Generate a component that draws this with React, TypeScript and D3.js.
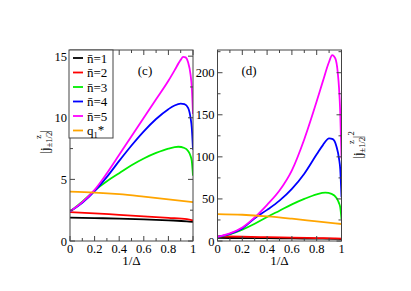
import React from "react";
import * as d3 from "d3";

// ---- panel (c): |j| ----
const cxN5 = [0, 0.1, 0.2, 0.3, 0.4, 0.5, 0.6, 0.7, 0.8, 0.85, 0.9, 0.92, 0.94, 0.96, 0.98, 0.99, 1];
const cN5 = [2.4, 3.15, 4.15, 5.5, 7.0, 8.5, 10.0, 11.5, 13.0, 13.85, 14.7, 14.95, 14.9, 14.5, 13.5, 12.5, 10.3];
const cxN4 = [0, 0.1, 0.2, 0.3, 0.4, 0.5, 0.6, 0.7, 0.8, 0.85, 0.9, 0.93, 0.96, 0.98, 0.99, 1];
const cN4 = [2.4, 3.1, 4.05, 5.2, 6.5, 7.75, 8.9, 9.9, 10.7, 11.0, 11.15, 11.1, 10.8, 10.0, 9.2, 7.4];
const cxN3 = [0, 0.1, 0.2, 0.3, 0.4, 0.5, 0.6, 0.7, 0.8, 0.88, 0.93, 0.96, 0.98, 0.99, 1];
const cN3 = [2.4, 3.2, 4.1, 4.85, 5.5, 6.15, 6.7, 7.15, 7.5, 7.65, 7.55, 7.3, 6.9, 6.5, 5.3];
const cxLow = [0, 0.2, 0.4, 0.6, 0.8, 0.95, 1];
const cN2 = [2.35, 2.25, 2.12, 2.0, 1.88, 1.78, 1.67];
const cN1 = [1.9, 1.86, 1.82, 1.76, 1.68, 1.6, 1.55];
const cxQ = [0, 0.2, 0.4, 0.6, 0.8, 1];
const cQ = [4.0, 3.93, 3.8, 3.6, 3.38, 3.15];

// ---- panel (d): |j|^2 ----
const dxN5 = [0, 0.1, 0.2, 0.3, 0.4, 0.5, 0.6, 0.7, 0.8, 0.85, 0.9, 0.925, 0.95, 0.97, 0.98, 0.99, 1];
const dN5 = [5, 9, 16, 28, 43, 60, 84, 121, 166, 190, 213, 221, 217, 200, 182, 152, 98];
const dxN4 = [0, 0.1, 0.2, 0.3, 0.4, 0.5, 0.6, 0.7, 0.8, 0.85, 0.9, 0.93, 0.96, 0.98, 0.99, 1];
const dN4 = [5, 8.5, 15, 27, 37, 48, 62, 80, 103, 114, 122, 121, 112, 98, 85, 52];
const dxN3 = [0, 0.1, 0.2, 0.3, 0.4, 0.5, 0.6, 0.7, 0.8, 0.87, 0.92, 0.96, 0.98, 0.99, 1];
const dN3 = [5, 8, 13.5, 20.5, 28.5, 36, 43.5, 50, 55.5, 57.4, 56, 51, 45, 40, 26];
const dxLow = [0, 0.2, 0.4, 0.6, 0.8, 0.95, 1];
const dN2 = [5.5, 5.1, 4.5, 4.0, 3.5, 3.2, 2.8];
const dN1 = [3.6, 3.5, 3.3, 3.1, 2.8, 2.56, 2.4];
const dxQ = [0, 0.2, 0.4, 0.6, 0.8, 1];
const dQ = [32, 31.2, 29.3, 26.5, 23.3, 20.2];

const xTicks = [0, 0.2, 0.4, 0.6, 0.8, 1];
const xTickLabels = ["0", "0.2", "0.4", "0.6", "0.8", "1"];
const cYTicks = [0, 5, 10, 15];
const dYTicks = [0, 50, 100, 150, 200];

const seriesNames = ["n=1", "n=2", "n=3", "n=4", "n=5", "q1*"];
const colors = ["#000000", "#ff0000", "#00ee00", "#0000ff", "#ff00ff", "#ffa500"];

const FONT = "'Liberation Serif', 'DejaVu Serif', 'Times New Roman', serif";

type PanelProps = {
  x0: number; x1: number; yTop: number; yBot: number;
  yMax: number; yTicks: number[]; yMinor: number;
  series: { xs: number[]; ys: number[]; color: string }[];
  tag: string; tagX: number; id: string;
};

function Panel(p: PanelProps) {
  const xs = d3.scaleLinear().domain([0, 1]).range([p.x0, p.x1]);
  const ys = d3.scaleLinear().domain([0, p.yMax]).range([p.yBot, p.yTop]);
  const line = d3.line<[number, number]>().x(d => xs(d[0])).y(d => ys(d[1])).curve(d3.curveMonotoneX);
  const minorX = d3.range(0, 1.0001, 0.1);
  const minorY = d3.range(0, p.yMax, p.yMinor);
  const frame = "#444";
  return (
    <g>
      <defs>
        <clipPath id={"clip" + p.id}>
          <rect x={p.x0} y={p.yTop} width={p.x1 - p.x0} height={p.yBot - p.yTop} />
        </clipPath>
      </defs>
      <g clipPath={`url(#clip${p.id})`}>
        {p.series.map((s, i) => (
          <path key={i} d={line(s.xs.map((x, k) => [x, s.ys[k]] as [number, number])) || ""}
            fill="none" stroke={s.color} strokeWidth={1.8} />
        ))}
      </g>
      {minorX.map((t, i) => {
        const major = Math.abs(t * 5 - Math.round(t * 5)) < 1e-6;
        const len = major ? 5 : 3;
        return (
          <g key={"xt" + i} stroke={frame} strokeWidth={1}>
            <line x1={xs(t)} x2={xs(t)} y1={p.yBot} y2={p.yBot - len} />
            <line x1={xs(t)} x2={xs(t)} y1={p.yTop} y2={p.yTop + len} />
          </g>
        );
      })}
      {minorY.map((t, i) => {
        const major = p.yTicks.includes(t);
        const len = major ? 5 : 3;
        return (
          <g key={"yt" + i} stroke={frame} strokeWidth={1}>
            <line x1={p.x0} x2={p.x0 + len} y1={ys(t)} y2={ys(t)} />
            <line x1={p.x1} x2={p.x1 - len} y1={ys(t)} y2={ys(t)} />
          </g>
        );
      })}
      <rect x={p.x0} y={p.yTop} width={p.x1 - p.x0} height={p.yBot - p.yTop} fill="none" stroke={frame} strokeWidth={1} />
      {xTicks.map((t, i) => (
        <text key={"xl" + i} x={xs(t)} y={p.yBot + 12} textAnchor="middle" fontSize={12.5}>{xTickLabels[i]}</text>
      ))}
      {p.yTicks.map((t, i) => (
        <text key={"yl" + i} x={p.x0 - 3} y={ys(t) + 4.5} textAnchor="end" fontSize={12.5}>{t}</text>
      ))}
      <text x={(p.x0 + p.x1) / 2} y={265} textAnchor="middle" fontSize={13}>1/Δ</text>
      <text x={p.tagX} y={75} textAnchor="middle" fontSize={13}>{p.tag}</text>
    </g>
  );
}

export default function App() {
  const cSeries = [
    { xs: cxLow, ys: cN1, color: colors[0] },
    { xs: cxLow, ys: cN2, color: colors[1] },
    { xs: cxN3, ys: cN3, color: colors[2] },
    { xs: cxN4, ys: cN4, color: colors[3] },
    { xs: cxN5, ys: cN5, color: colors[4] },
    { xs: cxQ, ys: cQ, color: colors[5] },
  ];
  const dSeries = [
    { xs: dxLow, ys: dN1, color: colors[0] },
    { xs: dxLow, ys: dN2, color: colors[1] },
    { xs: dxN3, ys: dN3, color: colors[2] },
    { xs: dxN4, ys: dN4, color: colors[3] },
    { xs: dxN5, ys: dN5, color: colors[4] },
    { xs: dxQ, ys: dQ, color: colors[5] },
  ];
  const legX = 69, legY = 50, legRow = 14.5;
  return (
    <svg width={411} height={291} style={{ position: "absolute", left: 0, top: 0, fontFamily: FONT }}>
      <rect width={411} height={291} fill="#fff" />
      <Panel x0={70} x1={193} yTop={50} yBot={241} yMax={15.5} yTicks={cYTicks} yMinor={2.5}
        series={cSeries} tag="(c)" tagX={145} id="c" />
      <Panel x0={217.5} x1={341.5} yTop={50} yBot={241} yMax={227} yTicks={dYTicks} yMinor={25}
        series={dSeries} tag="(d)" tagX={249} id="d" />
      <rect x={legX} y={legY} width={44} height={88} fill="#fff" stroke="#444" strokeWidth={1} />
      {seriesNames.map((name, i) => {
        const y = legY + 8 + i * legRow;
        return (
          <g key={"lg" + i}>
            <line x1={73} x2={83} y1={y} y2={y} stroke={colors[i]} strokeWidth={1.8} />
            {i < 5 ? (
              <text x={87} y={y + 4.5} fontSize={13}>
                {"n\u0304" + name.slice(1)}
              </text>
            ) : (
              <text x={87} y={y + 4.5} fontSize={13}>
                q<tspan fontSize={8.5} dy={3}>1</tspan><tspan dy={-4} fontSize={13}>*</tspan>
              </text>
            )}
          </g>
        );
      })}
      <text transform="translate(49,142) rotate(-90)" textAnchor="middle" fontSize={13}>
        |j<tspan fontSize={8.5} dy={3}>±1/2</tspan><tspan fontSize={8.5} dx={-7} dy={-11}>z</tspan><tspan dx={2} dy={8}>|</tspan>
      </text>
      <text transform="translate(362,145) rotate(-90)" textAnchor="middle" fontSize={13}>
        |j<tspan fontSize={8.5} dy={3}>±1/2</tspan><tspan fontSize={8.5} dx={-7} dy={-11}>z</tspan><tspan dx={2} dy={8}>|</tspan><tspan fontSize={8.5} dy={-8}>2</tspan>
      </text>
    </svg>
  );
}
